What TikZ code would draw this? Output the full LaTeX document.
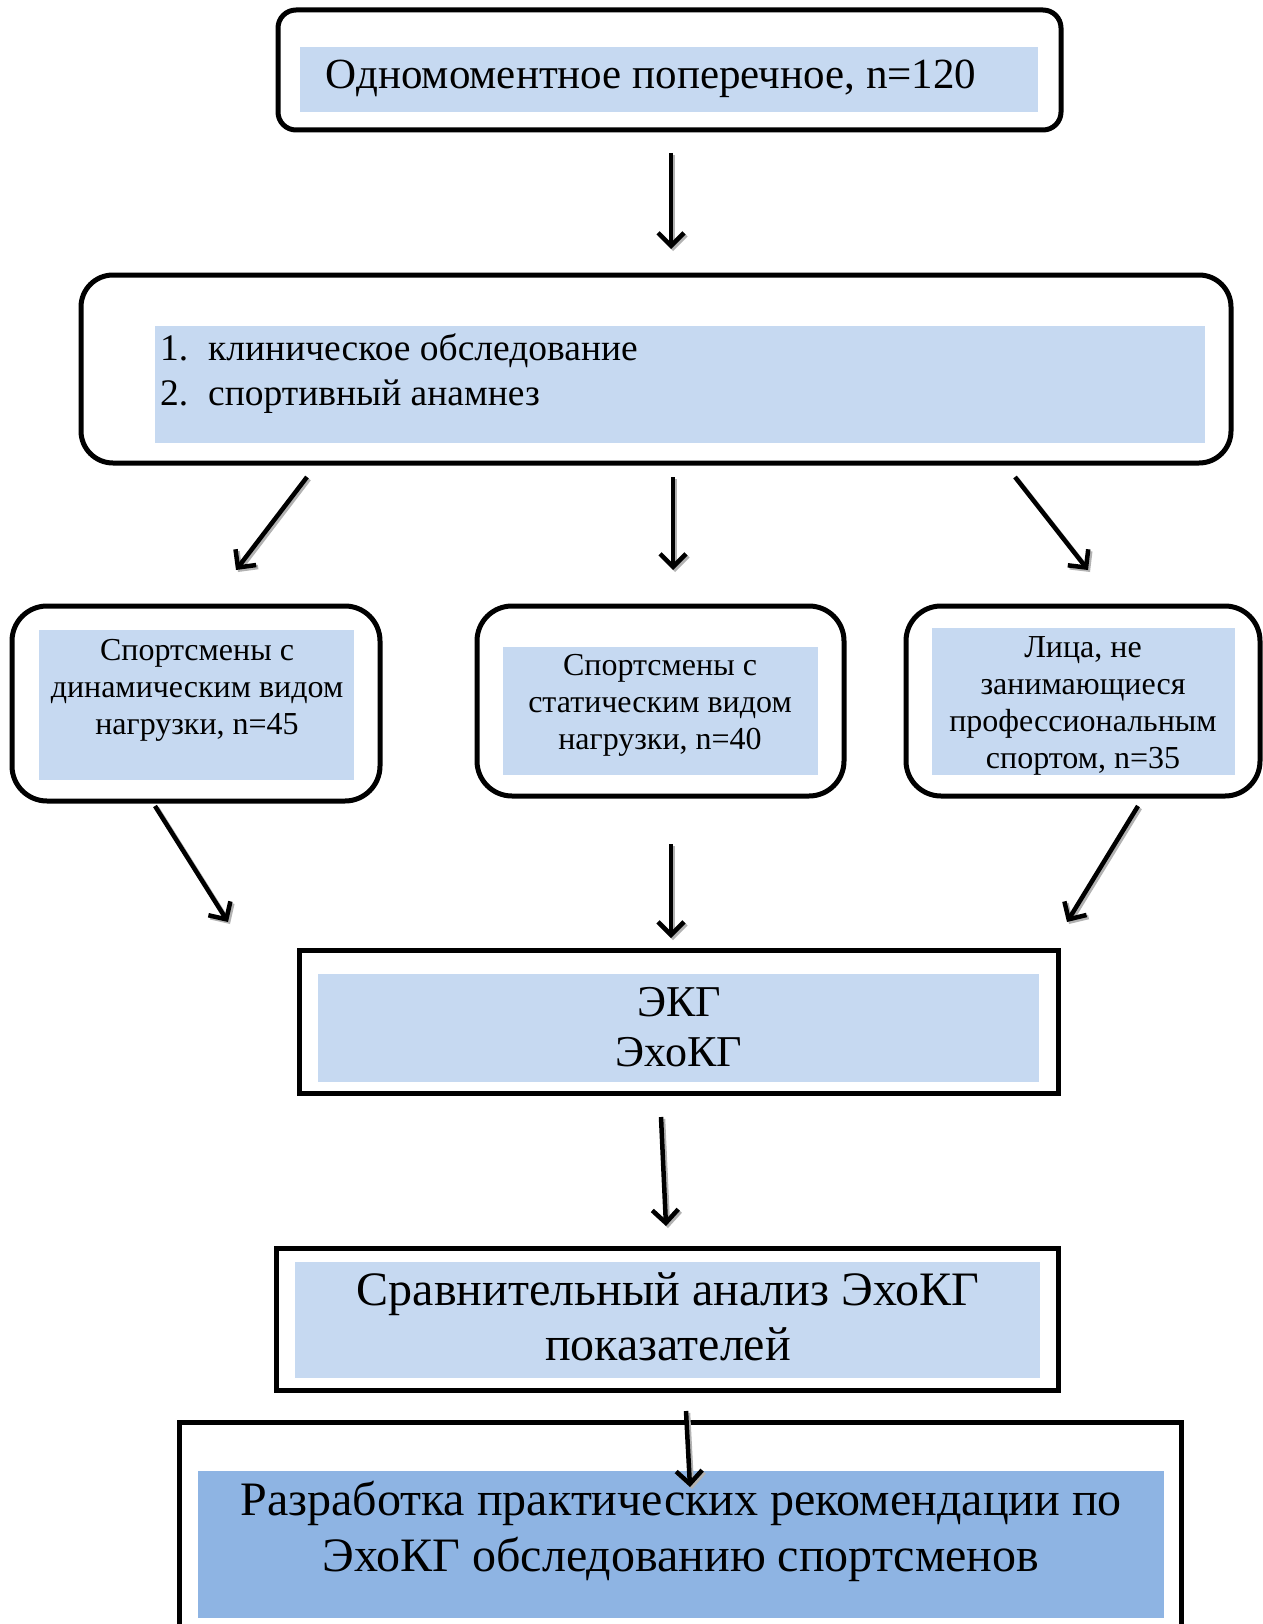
\documentclass[tikz,border=0pt]{standalone}
\usepackage{fontspec}
\setmainfont{Liberation Serif}
\usetikzlibrary{arrows.meta}
\definecolor{lb}{HTML}{C6D9F1}
\definecolor{mb}{HTML}{8EB4E3}
\begin{document}
\begin{tikzpicture}[x=1pt,y=-1pt,
  rbox/.style={draw=black,line width=5pt,rounded corners=#1,inner sep=0pt},
  sbox/.style={draw=black,line width=5pt,inner sep=0pt},
  arr/.style={line width=4.5pt,-{Straight Barb[length=13pt,width=26pt,line width=4.5pt]}},
  arrsh/.style={black!30,line width=4.5pt,-{Straight Barb[length=13pt,width=26pt,line width=4.5pt]}},
  ta/.style={align=center,inner sep=0pt,font=\fontsize{43}{50}\selectfont},
  tk/.style={align=center,inner sep=0pt,font=\fontsize{44}{50}\selectfont},
  tb/.style={inner sep=0pt,font=\fontsize{37.5}{44}\selectfont},
  tc/.style={align=center,inner sep=0pt,font=\fontsize{32}{37}\selectfont},
  tc4/.style={align=center,inner sep=0pt,font=\fontsize{32}{36.8}\selectfont},
  td/.style={align=center,inner sep=0pt,font=\fontsize{48}{55}\selectfont},
  te/.style={align=center,inner sep=0pt,font=\fontsize{48}{56}\selectfont},
]
\useasboundingbox (0,0) rectangle (1262,1624);
\fill[white] (0,0) rectangle (1262,1624);

% Box 1
\node[rbox=18pt,minimum width=783pt,minimum height=120pt] (b1) at (669.5,70) {};
\fill[lb] (300,47) rectangle (1038,112);
\node[ta,anchor=base] (t1) at (651,89) {Одномоментное поперечное, n=120};

% Box 2
\node[rbox=32pt,minimum width=1150pt,minimum height=188pt] (b2) at (656,369) {};
\fill[lb] (155,326) rectangle (1205,443);
\node[tb,anchor=base west] (n1) at (160,360) {1.};
\node[tb,anchor=base west] (t2a) at (208,360) {клиническое обследование};
\node[tb,anchor=base west] (n2) at (160,405) {2.};
\node[tb,anchor=base west] (t2b) at (208,405) {спортивный анамнез};

% Boxes 3
\node[rbox=35pt,minimum width=368pt,minimum height=195pt] (b3a) at (196,703.5) {};
\fill[lb] (39,630) rectangle (354,780);
\node[tc] (t3a) at (197,690) {Спортсмены с\\динамическим видом\\нагрузки, n=45};

\node[rbox=35pt,minimum width=367pt,minimum height=190pt] (b3b) at (660.5,701) {};
\fill[lb] (503,647) rectangle (818,775);
\node[tc] (t3b) at (660,705) {Спортсмены с\\статическим видом\\нагрузки, n=40};

\node[rbox=35pt,minimum width=354pt,minimum height=190pt] (b3c) at (1083,701) {};
\fill[lb] (932,628) rectangle (1235,775);
\node[tc4] (t3c) at (1083,706) {Лица, не\\занимающиеся\\профессиональным\\спортом, n=35};

% Box 4
\node[sbox,minimum width=759pt,minimum height=143pt] (b4) at (678.5,1021.5) {};
\fill[lb] (318,974) rectangle (1039,1082);
\node[tk] (t4) at (679,1027) {ЭКГ\\ЭхоКГ};

% Box 5
\node[sbox,minimum width=782pt,minimum height=142pt] (b5) at (667,1319) {};
\fill[lb] (295,1262) rectangle (1040,1378);
\node[td] (t5) at (668,1317) {Сравнительный анализ ЭхоКГ\\показателей};

% Box 6
\node[sbox,minimum width=1002pt,minimum height=228pt] (b6) at (680,1536) {};
\fill[mb] (198,1471) rectangle (1164,1618);
\node[te] (t6) at (681,1531) {Разработка практических рекомендации по\\ЭхоКГ обследованию спортсменов};

% arrow end points
\coordinate (a1s) at (671,153);  \coordinate (a1e) at (671,249);
\coordinate (a2s) at (307,477);  \coordinate (a2e) at (236,570);
\coordinate (a3s) at (673,477);  \coordinate (a3e) at (673,570);
\coordinate (a4s) at (1015,477); \coordinate (a4e) at (1088,570);
\coordinate (a5s) at (155,806);  \coordinate (a5e) at (228,922);
\coordinate (a6s) at (671,844);  \coordinate (a6e) at (671,938);
\coordinate (a7s) at (1138,806); \coordinate (a7e) at (1067,922);
\coordinate (a8s) at (661,1117); \coordinate (a8e) at (666,1226);
\coordinate (a9s) at (686,1411); \coordinate (a9e) at (690,1487);

\foreach \i in {1,...,9} {
  \draw[arrsh] ([shift={(2pt,-2pt)}]a\i s) -- ([shift={(2pt,-2pt)}]a\i e);
  \draw[arr] (a\i s) -- (a\i e);
}
\end{tikzpicture}
\end{document}
